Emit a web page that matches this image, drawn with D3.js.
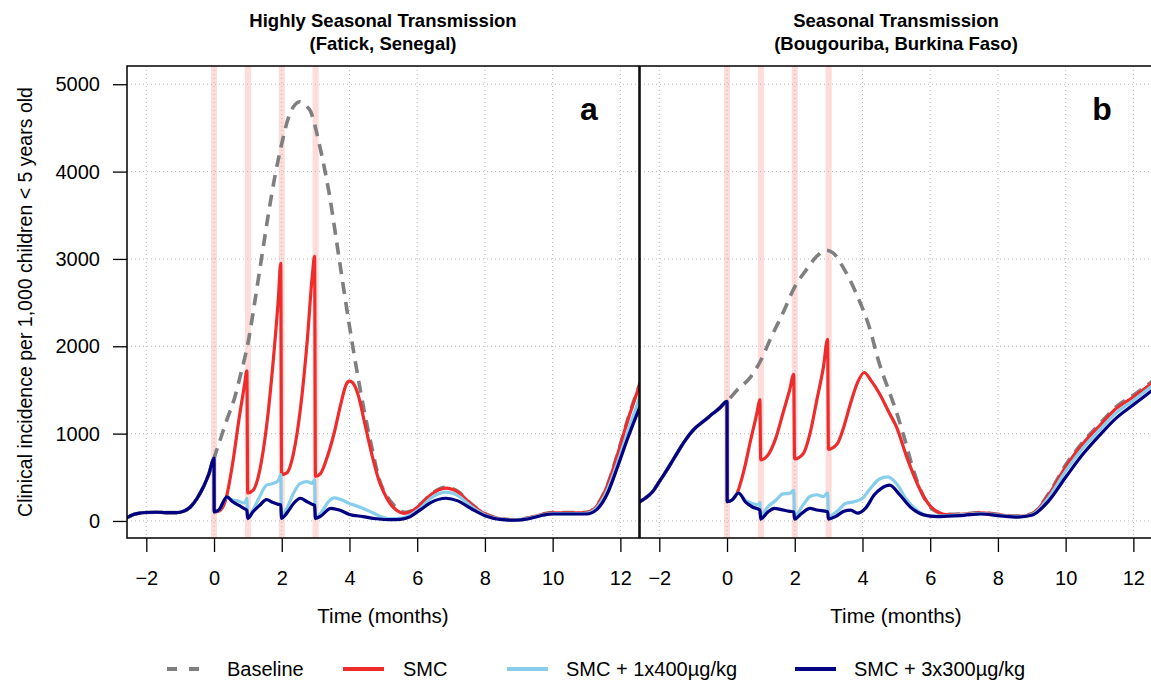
<!DOCTYPE html>
<html>
<head>
<meta charset="utf-8">
<script src="https://cdn.jsdelivr.net/npm/d3@7"></script>
<style>
  html, body { margin: 0; padding: 0; background: #fff; }
  svg { display: block; font-family: "Liberation Sans", Arial, Helvetica, sans-serif; }
</style>
</head>
<body>
<svg id="chart" width="1151" height="684"></svg>
<script>
// ---------------- DATA ----------------
const panelTitles = [
  ["Highly Seasonal Transmission", "(Fatick, Senegal)"],
  ["Seasonal Transmission", "(Bougouriba, Burkina Faso)"]
];
const panelLetters = ["a", "b"];
const xTicks = [-2, 0, 2, 4, 6, 8, 10, 12];
const yTicks = [0, 1000, 2000, 3000, 4000, 5000];
const smcRounds = [0, 1, 2, 3];
const seriesNames = ["Baseline", "SMC", "SMC + 1x400\u00b5g/kg", "SMC + 3x300\u00b5g/kg"];

// Fatick (panel a): shared pre-campaign curve
const fatickPre = [[-2.6,30],[-2.4,70],[-2.2,90],[-2.0,97],[-1.7,100],[-1.4,95],[-1.1,95],[-0.9,110],[-0.7,160],[-0.5,260],[-0.3,400],[-0.15,540],[0,720]];
const fatickBaseline = [[0.2,950],[0.4,1180],[0.6,1400],[0.8,1700],[1.0,2030],[1.2,2500],[1.4,3000],[1.6,3500],[1.8,3950],[2.0,4320],[2.2,4620],[2.4,4770],[2.53,4800],[2.7,4760],[2.85,4690],[3.1,4330],[3.4,3750],[3.7,2990],[4.0,2230],[4.25,1650],[4.45,1230],[4.65,860],[4.9,450],[5.1,290],[5.3,185],[5.5,120],[5.65,98],[5.8,112],[6.1,195],[6.4,305],[6.85,385],[7.2,340],[7.6,195],[8.0,85],[8.5,25],[8.9,14],[9.3,37],[9.7,78],[10.0,95],[10.5,95],[11.0,98],[11.3,175],[11.6,395],[11.9,745],[12.2,1140],[12.6,1600]];
const fatickSMC = [[0.005,105],[0.15,115],[0.35,250],[0.55,660],[0.75,1200],[0.9,1560],[0.97,1720],[0.995,320],[1.15,350],[1.35,580],[1.55,1080],[1.75,1840],[1.9,2550],[1.97,2950],[1.995,530],[2.15,550],[2.35,780],[2.55,1280],[2.75,2050],[2.9,2800],[2.97,3030],[2.995,510],[3.15,545],[3.35,740],[3.55,1010],[3.75,1350],[3.9,1560],[4.0,1600],[4.1,1580],[4.25,1450],[4.45,1120],[4.65,780],[4.85,490],[5.0,340],[5.2,200],[5.4,120],[5.6,88],[5.8,105],[6.1,190],[6.4,300],[6.85,375],[7.2,330],[7.6,190],[8.0,80],[8.5,22],[8.9,12],[9.3,35],[9.7,75],[10.0,92],[10.5,92],[11.0,95],[11.3,170],[11.6,390],[11.9,740],[12.2,1130],[12.6,1590]];
const fatickIvm1 = [[0.005,105],[0.15,130],[0.38,270],[0.5,245],[0.7,230],[0.9,205],[0.97,260],[0.995,45],[1.15,125],[1.35,280],[1.55,410],[1.75,430],[1.9,465],[1.97,530],[1.995,50],[2.15,145],[2.35,320],[2.55,430],[2.75,450],[2.9,430],[2.97,470],[2.995,35],[3.15,90],[3.4,230],[3.55,265],[3.75,245],[4.0,200],[4.3,160],[4.6,110],[4.9,55],[5.2,25],[5.5,30],[5.8,70],[6.1,150],[6.4,260],[6.85,330],[7.2,290],[7.6,165],[8.0,70],[8.5,20],[8.9,10],[9.3,30],[9.7,70],[10.0,85],[10.5,85],[11.0,88],[11.3,150],[11.6,340],[11.9,650],[12.2,1000],[12.6,1450]];
const fatickIvm3 = [[0.005,105],[0.15,130],[0.38,275],[0.55,220],[0.75,175],[0.9,140],[0.97,120],[0.995,30],[1.15,105],[1.35,180],[1.55,245],[1.75,210],[1.9,190],[1.97,185],[1.995,30],[2.15,90],[2.35,200],[2.55,260],[2.75,220],[2.9,190],[2.97,180],[2.995,30],[3.15,55],[3.45,145],[3.7,125],[4.0,75],[4.4,50],[4.8,25],[5.2,15],[5.5,18],[5.8,50],[6.1,130],[6.4,210],[6.85,260],[7.2,230],[7.6,140],[8.0,60],[8.5,15],[8.9,8],[9.3,25],[9.7,65],[10.0,80],[10.5,80],[11.0,80],[11.3,130],[11.6,300],[11.9,600],[12.2,930],[12.6,1330]];

// Bougouriba (panel b): shared pre-campaign curve
const bougouribaPre = [[-2.6,215],[-2.4,265],[-2.2,335],[-2.0,450],[-1.75,600],[-1.5,760],[-1.25,915],[-1.0,1040],[-0.7,1140],[-0.4,1235],[-0.2,1300],[0,1370]];
const bougouribaBaseline = [[0.3,1500],[0.7,1650],[1.0,1840],[1.3,2100],[1.65,2380],[2.0,2680],[2.35,2880],[2.65,3030],[2.92,3100],[3.13,3070],[3.42,2910],[3.82,2600],[4.2,2220],[4.5,1800],[4.8,1470],[5.0,1250],[5.2,1000],[5.5,590],[5.8,280],[6.1,125],[6.5,75],[7.0,82],[7.5,96],[8.0,76],[8.6,56],[9.0,82],[9.5,315],[10.0,640],[10.5,900],[11.0,1110],[11.5,1310],[12.0,1440],[12.6,1610]];
const bougouribaSMC = [[0.005,220],[0.15,240],[0.3,320],[0.5,580],[0.7,930],[0.88,1230],[0.97,1390],[0.995,700],[1.2,750],[1.45,960],[1.65,1230],[1.85,1500],[1.97,1680],[1.995,710],[2.25,770],[2.45,1000],[2.65,1380],[2.85,1770],[2.97,2080],[2.995,820],[3.25,880],[3.45,1080],[3.65,1350],[3.85,1580],[4.05,1700],[4.25,1610],[4.5,1460],[4.8,1230],[5.0,1080],[5.3,740],[5.7,360],[6.0,170],[6.3,90],[6.5,72],[7.0,78],[7.5,92],[8.0,72],[8.6,52],[9.0,78],[9.5,300],[10.0,620],[10.5,880],[11.0,1090],[11.5,1290],[12.0,1420],[12.6,1590]];
const bougouribaIvm1 = [[0.005,220],[0.15,240],[0.34,320],[0.55,235],[0.75,200],[0.93,185],[0.97,210],[0.995,65],[1.2,160],[1.45,240],[1.65,310],[1.85,315],[1.97,350],[1.995,55],[2.25,185],[2.45,280],[2.65,300],[2.85,280],[2.97,320],[2.995,50],[3.25,110],[3.5,200],[3.75,220],[4.0,260],[4.25,380],[4.5,480],[4.75,505],[5.0,430],[5.3,245],[5.6,125],[6.0,55],[6.5,62],[7.0,72],[7.5,85],[8.0,68],[8.6,50],[9.0,72],[9.5,270],[10.0,570],[10.5,830],[11.0,1040],[11.5,1240],[12.0,1380],[12.6,1560]];
const bougouribaIvm3 = [[0.005,220],[0.15,240],[0.34,320],[0.55,215],[0.75,160],[0.97,125],[0.995,22],[1.2,100],[1.4,145],[1.6,130],[1.85,110],[1.97,105],[1.995,22],[2.2,85],[2.45,145],[2.65,125],[2.97,105],[2.995,22],[3.2,50],[3.45,110],[3.65,125],[3.85,90],[4.1,150],[4.35,300],[4.55,370],[4.8,410],[5.1,300],[5.4,165],[5.8,70],[6.2,50],[6.5,55],[7.0,65],[7.5,80],[8.0,62],[8.6,45],[9.0,65],[9.5,230],[10.0,500],[10.5,760],[11.0,980],[11.5,1180],[12.0,1330],[12.6,1510]];

// ---------------- STYLE ----------------
const colors = ["#7f7f7f", "#ee2c2c", "#87ceeb", "#000080"];
const widths = [3.6, 3.2, 3.2, 3.2];
const dashes = ["12,8", null, null, null];

const panels = [
  { x0: 127, x1: 639, pre: fatickPre, series: [fatickBaseline, fatickSMC, fatickIvm1, fatickIvm3] },
  { x0: 640, x1: 1152, pre: bougouribaPre, series: [bougouribaBaseline, bougouribaSMC, bougouribaIvm1, bougouribaIvm3] }
];
const plotTop = 66, plotBottom = 538;
const xDomain = [-2.57, 12.55];
const yDomain = [-195, 5209];

const svg = d3.select("#chart");
const y = d3.scaleLinear().domain(yDomain).range([plotBottom, plotTop]);

panels.forEach((p, i) => {
  const x = d3.scaleLinear().domain(xDomain).range([p.x0, p.x1]);
  const g = svg.append("g");
  const clipId = "clip" + i;
  svg.append("clipPath").attr("id", clipId)
    .append("rect").attr("x", p.x0).attr("y", plotTop).attr("width", p.x1 - p.x0).attr("height", plotBottom - plotTop);

  // SMC round bands
  g.append("g").selectAll("rect").data(smcRounds).join("rect")
    .attr("x", d => x(d) - 3).attr("width", 6)
    .attr("y", plotTop).attr("height", plotBottom - plotTop)
    .attr("fill", "#fddcd9");

  // grid
  const grid = g.append("g").attr("clip-path", `url(#${clipId})`);
  grid.selectAll("line.gx").data(xTicks).join("line").attr("class", "gx")
    .attr("x1", d => x(d)).attr("x2", d => x(d)).attr("y1", plotTop).attr("y2", plotBottom)
    .attr("stroke", "#b8b8b8").attr("stroke-width", 1).attr("stroke-dasharray", "1,3");
  grid.selectAll("line.gy").data(yTicks).join("line").attr("class", "gy")
    .attr("x1", p.x0).attr("x2", p.x1).attr("y1", d => y(d)).attr("y2", d => y(d))
    .attr("stroke", "#b8b8b8").attr("stroke-width", 1).attr("stroke-dasharray", "1,3");

  // lines
  const line = d3.line().x(d => x(d[0])).y(d => y(d[1])).curve(d3.curveMonotoneX);
  const lg = g.append("g").attr("clip-path", `url(#${clipId})`);
  p.series.forEach((s, k) => {
    lg.append("path").datum(p.pre.concat(s))
      .attr("d", line).attr("fill", "none")
      .attr("stroke", colors[k]).attr("stroke-width", widths[k])
      .attr("stroke-linejoin", "round").attr("stroke-linecap", "butt")
      .attr("stroke-dasharray", dashes[k]);
  });

  // x axis
  const xa = g.append("g").attr("transform", `translate(0,${plotBottom})`)
    .call(d3.axisBottom(x).tickValues(xTicks).tickFormat(d => d < 0 ? "\u2212" + Math.abs(d) : String(d))
      .tickSize(14).tickSizeOuter(0).tickPadding(19));
  xa.select(".domain").remove();
  xa.selectAll("line").attr("stroke", "#000").attr("stroke-width", 1.3);
  xa.selectAll("text").attr("font-size", 20).attr("fill", "#000")
    .attr("font-family", '"Liberation Sans", Arial, sans-serif');

  // y axis only on panel a
  if (i === 0) {
    const ya = g.append("g").attr("transform", `translate(${p.x0},0)`)
      .call(d3.axisLeft(y).tickValues(yTicks).tickFormat(d3.format("d"))
        .tickSize(14).tickSizeOuter(0).tickPadding(13));
    ya.select(".domain").remove();
    ya.selectAll("line").attr("stroke", "#000").attr("stroke-width", 1.3);
    ya.selectAll("text").attr("font-size", 20).attr("fill", "#000")
      .attr("font-family", '"Liberation Sans", Arial, sans-serif');
  }

  // frame
  g.append("rect").attr("x", p.x0).attr("y", plotTop).attr("width", p.x1 - p.x0).attr("height", plotBottom - plotTop)
    .attr("fill", "none").attr("stroke", "#000").attr("stroke-width", 1.5);

  const cx = (p.x0 + p.x1) / 2;
  // titles
  g.append("text").attr("x", cx).attr("y", 27).attr("text-anchor", "middle")
    .attr("font-weight", "bold").attr("font-size", 18.5).text(panelTitles[i][0]);
  g.append("text").attr("x", cx).attr("y", 49.5).attr("text-anchor", "middle")
    .attr("font-weight", "bold").attr("font-size", 18.5).text(panelTitles[i][1]);
  // panel letter
  g.append("text").attr("x", p.x1 - 50).attr("y", 120).attr("text-anchor", "middle")
    .attr("font-weight", "bold").attr("font-size", 32).text(panelLetters[i]);
  // x label
  g.append("text").attr("x", cx).attr("y", 623).attr("text-anchor", "middle")
    .attr("font-size", 20.5).text("Time (months)");
});

// y label
svg.append("text").attr("transform", `translate(32,${(plotTop + plotBottom) / 2}) rotate(-90)`)
  .attr("text-anchor", "middle").attr("font-size", 19.5)
  .text("Clinical incidence per 1,000 children < 5 years old");

// legend
const legendItems = [
  { lx0: 167, lx1: 201, tx: 227 },
  { lx0: 343, lx1: 384, tx: 403 },
  { lx0: 507, lx1: 548, tx: 566 },
  { lx0: 795, lx1: 836, tx: 854 }
];
const lgd = svg.append("g");
legendItems.forEach((it, k) => {
  lgd.append("line").attr("x1", it.lx0).attr("x2", it.lx1).attr("y1", 669).attr("y2", 669)
    .attr("stroke", colors[k]).attr("stroke-width", 4)
    .attr("stroke-dasharray", k === 0 ? "10,12" : null);
  lgd.append("text").attr("x", it.tx).attr("y", 676).attr("font-size", 20).text(seriesNames[k]);
});
</script>
</body>
</html>
